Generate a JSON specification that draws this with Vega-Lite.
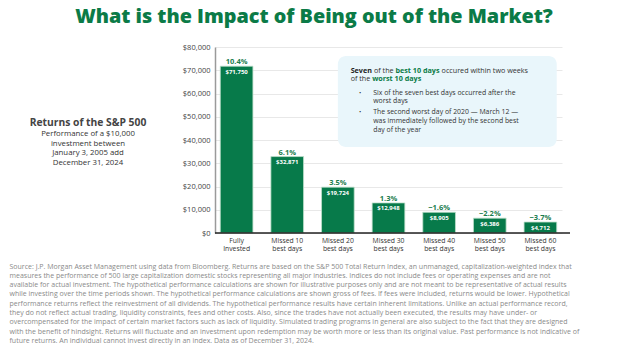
{
  "$schema": "https://vega.github.io/schema/vega-lite/v6.json",
  "width": 355,
  "height": 186,
  "autosize": {"type": "none"},
  "padding": {"left": 215, "top": 47, "right": 55, "bottom": 119},
  "background": "#ffffff",
  "config": {"view": {"stroke": null}, "font": "Open Sans"},
  "title": {
    "text": "What is the Impact of Being out of the Market?",
    "anchor": "middle",
    "dx": -78.5,
    "offset": 16,
    "fontSize": 19.8,
    "font": "Open Sans",
    "fontWeight": 800,
    "color": "#0b7b47"
  },
  "data": {
    "values": [
      {"label": "Fully Invested", "value": 71750, "pct": "10.4%"},
      {"label": "Missed 10 best days", "value": 32871, "pct": "6.1%"},
      {"label": "Missed 20 best days", "value": 19724, "pct": "3.5%"},
      {"label": "Missed 30 best days", "value": 12948, "pct": "1.3%"},
      {"label": "Missed 40 best days", "value": 8905, "pct": "−1.6%"},
      {"label": "Missed 50 best days", "value": 6386, "pct": "−2.2%"},
      {"label": "Missed 60 best days", "value": 4712, "pct": "−3.7%"}
    ]
  },
  "encoding": {
    "y": {
      "field": "value",
      "type": "quantitative",
      "scale": {"domain": [0, 80000], "nice": false},
      "axis": {
        "title": null,
        "values": [0, 10000, 20000, 30000, 40000, 50000, 60000, 70000, 80000],
        "tickCount": 20,
        "format": "$,.0f",
        "labelOverlap": false,
        "labelFontSize": 7.5,
        "labelColor": "#444444",
        "ticks": false,
        "labelPadding": 5,
        "domainColor": "#9a9a9a",
        "domainWidth": 1.5,
        "gridColor": "#e8e8e8",
        "gridWidth": 1
      }
    }
  },
  "layer": [
    {
      "mark": {"type": "bar", "color": "#077a4a", "stroke": "#bfe0cc", "strokeWidth": 0.8},
      "encoding": {
        "x": {
          "field": "label",
          "type": "nominal",
          "sort": null,
          "scale": {
            "domain": ["Fully Invested", "Missed 10 best days", "Missed 20 best days", "Missed 30 best days", "Missed 40 best days", "Missed 50 best days", "Missed 60 best days"],
            "range": [0, 347],
            "paddingInner": 0.355,
            "paddingOuter": 0.104
          },
          "axis": {
            "title": [
              "Source: J.P. Morgan Asset Management using data from Bloomberg. Returns are based on the S&P 500 Total Return Index, an unmanaged, capitalization-weighted index that",
              "measures the performance of 500 large capitalization domestic stocks representing all major industries. Indices do not include fees or operating expenses and are not",
              "available for actual investment. The hypothetical performance calculations are shown for illustrative purposes only and are not meant to be representative of actual results",
              "while investing over the time periods shown. The hypothetical performance calculations are shown gross of fees. If fees were included, returns would be lower. Hypothetical",
              "performance returns reflect the reinvestment of all dividends. The hypothetical performance results have certain inherent limitations. Unlike an actual performance record,",
              "they do not reflect actual trading, liquidity constraints, fees and other costs. Also, since the trades have not actually been executed, the results may have under- or",
              "overcompensated for the impact of certain market factors such as lack of liquidity. Simulated trading programs in general are also subject to the fact that they are designed",
              "with the benefit of hindsight. Returns will fluctuate and an investment upon redemption may be worth more or less than its original value. Past performance is not indicative of",
              "future returns. An individual cannot invest directly in an index. Data as of December 31, 2024."
            ],
            "titleX": -206,
            "titleY": 29,
            "titleAlign": "left",
            "titleAnchor": "start",
            "titleBaseline": "top",
            "titleFontSize": 7,
            "titleFontWeight": "normal",
            "titleColor": "#8a8a8a",
            "titleLineHeight": 9.3,
            "titleFont": "Open Sans",
            "labelAngle": 0,
            "labelExpr": "datum.value == 'Fully Invested' ? ['Fully', 'Invested'] : [slice(datum.value, 0, 9), slice(datum.value, 10)]",
            "labelFontSize": 6.8,
            "labelColor": "#333333",
            "labelPadding": 4,
            "labelLineHeight": 8.5,
            "ticks": false,
            "domain": false
          }
        }
      }
    },
    {
      "mark": {"type": "text", "baseline": "alphabetic", "dy": -2, "fontSize": 7.5, "fontWeight": "bold", "color": "#1b7d4e"},
      "encoding": {
        "x": {"field": "label", "type": "nominal", "sort": null},
        "text": {"field": "pct"}
      }
    },
    {
      "mark": {"type": "text", "baseline": "alphabetic", "dy": 7.5, "fontSize": 6, "fontWeight": "bold", "color": "#ffffff"},
      "encoding": {
        "x": {"field": "label", "type": "nominal", "sort": null},
        "text": {"field": "value", "type": "quantitative", "format": "$,.0f"}
      }
    },
    {
      "data": {"values": [{"value": 0}]},
      "mark": {"type": "rule", "color": "#222222", "strokeWidth": 1.5}
    },
    {
      "data": {"values": [{"label": "Missed 20 best days", "label2": "Missed 60 best days", "value": 76130, "value2": 36990}]},
      "mark": {"type": "rect", "cornerRadius": 8, "fill": "#e9f6fb"},
      "encoding": {
        "x": {"field": "label", "type": "nominal", "bandPosition": 0.5},
        "x2": {"field": "label2", "bandPosition": 1},
        "y2": {"field": "value2"}
      }
    },
    {
      "data": {"values": [{"label": "Missed 20 best days", "value": 69806, "t": "Seven"}]},
      "mark": {"type": "text", "align": "left", "baseline": "middle", "dx": 12.8, "fontSize": 7.2, "fontWeight": "bold", "color": "#222222"},
      "encoding": {"x": {"field": "label", "type": "nominal"}, "text": {"field": "t"}}
    },
    {
      "data": {"values": [{"label": "Missed 20 best days", "value": 69806, "t": "of the"}]},
      "mark": {"type": "text", "align": "left", "baseline": "middle", "dx": 36.1, "fontSize": 7.2, "color": "#333333"},
      "encoding": {"x": {"field": "label", "type": "nominal"}, "text": {"field": "t"}}
    },
    {
      "data": {"values": [{"label": "Missed 20 best days", "value": 69806, "t": "best 10 days"}]},
      "mark": {"type": "text", "align": "left", "baseline": "middle", "dx": 57.6, "fontSize": 7.2, "fontWeight": "bold", "color": "#0b7b47"},
      "encoding": {"x": {"field": "label", "type": "nominal"}, "text": {"field": "t"}}
    },
    {
      "data": {"values": [{"label": "Missed 20 best days", "value": 69806, "t": "occured within two weeks"}]},
      "mark": {"type": "text", "align": "left", "baseline": "middle", "dx": 103.7, "fontSize": 7.2, "color": "#333333"},
      "encoding": {"x": {"field": "label", "type": "nominal"}, "text": {"field": "t"}}
    },
    {
      "data": {"values": [{"label": "Missed 20 best days", "value": 66107, "t": "of the"}]},
      "mark": {"type": "text", "align": "left", "baseline": "middle", "dx": 12.8, "fontSize": 7.2, "color": "#333333"},
      "encoding": {"x": {"field": "label", "type": "nominal"}, "text": {"field": "t"}}
    },
    {
      "data": {"values": [{"label": "Missed 20 best days", "value": 66107, "t": "worst 10 days"}]},
      "mark": {"type": "text", "align": "left", "baseline": "middle", "dx": 34.3, "fontSize": 7.2, "fontWeight": "bold", "color": "#0b7b47"},
      "encoding": {"x": {"field": "label", "type": "nominal"}, "text": {"field": "t"}}
    },
    {
      "data": {"values": [{"label": "Missed 20 best days", "value": 60343, "t": "•"}, {"label": "Missed 20 best days", "value": 51913, "t": "•"}]},
      "mark": {"type": "text", "align": "left", "baseline": "middle", "dx": 21.1, "fontSize": 6, "color": "#333333"},
      "encoding": {"x": {"field": "label", "type": "nominal"}, "text": {"field": "t"}}
    },
    {
      "data": {"values": [
        {"label": "Missed 20 best days", "value": 60343, "t": "Six of the seven best days occurred after the"},
        {"label": "Missed 20 best days", "value": 56902, "t": "worst days"},
        {"label": "Missed 20 best days", "value": 51913, "t": "The second worst day of 2020 — March 12 —"},
        {"label": "Missed 20 best days", "value": 48042, "t": "was immediately followed by the second best"},
        {"label": "Missed 20 best days", "value": 44171, "t": "day of the year"}
      ]},
      "mark": {"type": "text", "align": "left", "baseline": "middle", "dx": 35.4, "fontSize": 6.9, "color": "#333333"},
      "encoding": {"x": {"field": "label", "type": "nominal"}, "text": {"field": "t"}}
    },
    {
      "data": {"values": [{"label": "Fully Invested", "value": 47440, "t": "Returns of the S&P 500"}]},
      "mark": {"type": "text", "align": "center", "baseline": "middle", "dx": -148.6, "fontSize": 10.3, "fontWeight": "bold", "color": "#444444"},
      "encoding": {"x": {"field": "label", "type": "nominal"}, "text": {"field": "t"}}
    },
    {
      "data": {"values": [
        {"label": "Fully Invested", "value": 42580, "t": "Performance of a $10,000"},
        {"label": "Fully Invested", "value": 38408, "t": "investment between"},
        {"label": "Fully Invested", "value": 34236, "t": "January 3, 2005 add"},
        {"label": "Fully Invested", "value": 30064, "t": "December 31, 2024"}
      ]},
      "mark": {"type": "text", "align": "center", "baseline": "middle", "dx": -148.6, "fontSize": 7.8, "color": "#333333"},
      "encoding": {"x": {"field": "label", "type": "nominal"}, "text": {"field": "t"}}
    }
  ]
}
